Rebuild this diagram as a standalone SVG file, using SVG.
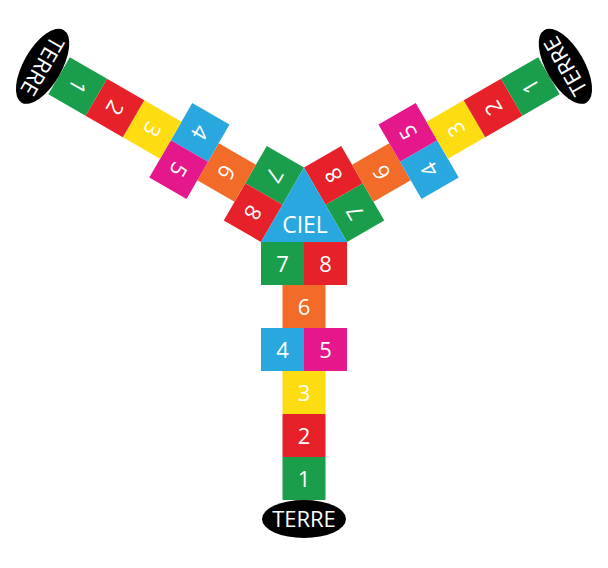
<svg xmlns="http://www.w3.org/2000/svg" width="608" height="568" viewBox="0 0 608 568">
<style>
.g{fill:#1b9e4b}.r{fill:#e62129}.y{fill:#fedc12}.b{fill:#29a8e0}.m{fill:#e4188b}.o{fill:#f26b28}.k{fill:#000}
text{font-family:"Open Sans","Noto Sans","Liberation Sans",sans-serif;fill:#fff;text-anchor:middle}
.n{font-size:22px}.t{font-size:22px}.c{font-size:23px}
</style>
<rect width="608" height="568" fill="#fff"/>
<g id="arm-bottom">
  <g id="b7"><rect class="g" x="261" y="242" width="43" height="43"/><text class="n" x="282.5" y="271.5">7</text></g>
  <g id="b8"><rect class="r" x="304" y="242" width="43" height="43"/><text class="n" x="325.5" y="271.5">8</text></g>
  <g id="b6"><rect class="o" x="282.5" y="285" width="43" height="43"/><text class="n" x="304" y="314.5">6</text></g>
  <g id="b4"><rect class="b" x="261" y="328" width="43" height="43"/><text class="n" x="282.5" y="357.5">4</text></g>
  <g id="b5"><rect class="m" x="304" y="328" width="43" height="43"/><text class="n" x="325.5" y="357.5">5</text></g>
  <g id="b3"><rect class="y" x="282.5" y="371" width="43" height="43"/><text class="n" x="304" y="400.5">3</text></g>
  <g id="b2"><rect class="r" x="282.5" y="414" width="43" height="43"/><text class="n" x="304" y="443.5">2</text></g>
  <g id="b1"><rect class="g" x="282.5" y="457" width="43" height="43"/><text class="n" x="304" y="486.5">1</text></g>
  <g id="bT"><ellipse class="k" cx="304" cy="519" rx="42" ry="19"/><text class="t" x="304" y="527">TERRE</text></g>
</g>
<g id="arm-left" transform="rotate(120 304 217.17)">
  <g id="l7"><rect class="g" x="261" y="242" width="43" height="43"/><text class="n" x="282.5" y="271.5">7</text></g>
  <g id="l8"><rect class="r" x="304" y="242" width="43" height="43"/><text class="n" x="325.5" y="271.5">8</text></g>
  <g id="l6"><rect class="o" x="282.5" y="285" width="43" height="43"/><text class="n" x="304" y="314.5">6</text></g>
  <g id="l4"><rect class="b" x="261" y="328" width="43" height="43"/><text class="n" x="282.5" y="357.5">4</text></g>
  <g id="l5"><rect class="m" x="304" y="328" width="43" height="43"/><text class="n" x="325.5" y="357.5">5</text></g>
  <g id="l3"><rect class="y" x="282.5" y="371" width="43" height="43"/><text class="n" x="304" y="400.5">3</text></g>
  <g id="l2"><rect class="r" x="282.5" y="414" width="43" height="43"/><text class="n" x="304" y="443.5">2</text></g>
  <g id="l1"><rect class="g" x="282.5" y="457" width="43" height="43"/><text class="n" x="304" y="486.5">1</text></g>
  <g id="lT"><ellipse class="k" cx="304" cy="519" rx="42" ry="19"/><text class="t" x="304" y="527">TERRE</text></g>
</g>
<g id="arm-right" transform="rotate(-120 304 217.17)">
  <g id="r7"><rect class="g" x="261" y="242" width="43" height="43"/><text class="n" x="282.5" y="271.5">7</text></g>
  <g id="r8"><rect class="r" x="304" y="242" width="43" height="43"/><text class="n" x="325.5" y="271.5">8</text></g>
  <g id="r6"><rect class="o" x="282.5" y="285" width="43" height="43"/><text class="n" x="304" y="314.5">6</text></g>
  <g id="r4"><rect class="b" x="261" y="328" width="43" height="43"/><text class="n" x="282.5" y="357.5">4</text></g>
  <g id="r5"><rect class="m" x="304" y="328" width="43" height="43"/><text class="n" x="325.5" y="357.5">5</text></g>
  <g id="r3"><rect class="y" x="282.5" y="371" width="43" height="43"/><text class="n" x="304" y="400.5">3</text></g>
  <g id="r2"><rect class="r" x="282.5" y="414" width="43" height="43"/><text class="n" x="304" y="443.5">2</text></g>
  <g id="r1"><rect class="g" x="282.5" y="457" width="43" height="43"/><text class="n" x="304" y="486.5">1</text></g>
  <g id="rT"><ellipse class="k" cx="304" cy="519" rx="42" ry="19"/><text class="t" x="304" y="527">TERRE</text></g>
</g>
<g id="ciel">
  <polygon class="b" points="304,167.5 261,242 347,242"/>
  <text class="c" x="305" y="233">CIEL</text>
</g>
</svg>
